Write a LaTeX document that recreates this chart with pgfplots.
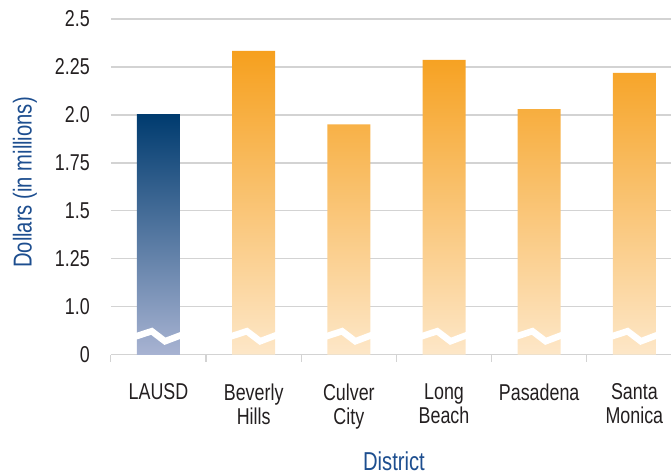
\documentclass[border=0pt]{standalone}
\usepackage{pgfplots}
\pgfplotsset{compat=1.18}
\usepackage{fontspec}
\setmainfont{Liberation Sans}[FakeStretch=0.78]

\definecolor{navytop}{HTML}{003B6F}
\definecolor{navybot}{HTML}{A8B3D2}
\definecolor{orangetop}{HTML}{F6A01E}
\definecolor{orangebot}{HTML}{FDE7C8}
\definecolor{gridgray}{HTML}{D3D3D3}
\definecolor{labelblue}{HTML}{1D4E8F}
\definecolor{ticktext}{HTML}{231F20}

% values are stored as (value - 0.75): the axis is broken between 0 and 1.0
\begin{document}
\begin{tikzpicture}
\begin{axis}[
    scale only axis,
    width=560.1bp,
    height=335.7bp,
    xmin=-0.5, xmax=5.385,
    ymin=0, ymax=1.75,
    axis line style={draw=none},
    ytick={0,0.25,0.5,0.75,1,1.25,1.5,1.75},
    yticklabels={0,1.0,1.25,1.5,1.75,2.0,2.25,2.5},
    xtick={0,1,2,3,4,5},
    xticklabels={LAUSD,Beverly\\Hills,Culver\\City,Long\\Beach,Pasadena,Santa\\Monica},
    minor xtick={-0.5,0.5,1.5,2.5,3.5,4.5},
    xtick pos=bottom,
    ytick pos=left,
    major tick length=0pt,
    minor tick length=7bp,
    tick align=outside,
    minor tick style={gridgray, line width=1.2bp},
    ymajorgrids=true,
    grid style={gridgray, line width=1.3bp},
    /pgf/number format/assume math mode=true,
    ticklabel style={font=\fontsize{23}{24}\selectfont, text=ticktext},
    yticklabel style={anchor=east, inner sep=0pt, xshift=-21bp},
    xticklabel style={anchor=north, align=center, inner sep=0pt, yshift=-29bp},
    xlabel={District},
    ylabel={Dollars (in millions)},
    label style={font=\fontsize{26}{28}\selectfont, text=labelblue},
    xlabel style={at={(axis description cs:0.5054,-0.3464)}, anchor=base},
    ylabel style={at={(axis description cs:-0.1534,0.513)}, anchor=center},
    unbounded coords=jump,
]

\addplot[ybar, bar width=43bp, bar shift=0pt, draw=none,
    top color=navytop, bottom color=navybot] coordinates {
(0,1.25)
};

\addplot[ybar, bar width=43bp, bar shift=0pt, draw=none,
    top color=orangetop, bottom color=orangebot] coordinates {
(1,1.584)
(2,1.201)
(3,1.537)
(4,1.280)
(5,1.469)
};

% break marks
\addplot[white, line width=6.5bp, line join=miter, sharp plot, forget plot] coordinates {
(-0.26,0.092) (-0.071,0.1225) (0.068,0.070) (0.26,0.106) (0.3,nan)
(0.74,0.092) (0.929,0.1225) (1.068,0.070) (1.26,0.106) (1.3,nan)
(1.74,0.092) (1.929,0.1225) (2.068,0.070) (2.26,0.106) (2.3,nan)
(2.74,0.092) (2.929,0.1225) (3.068,0.070) (3.26,0.106) (3.3,nan)
(3.74,0.092) (3.929,0.1225) (4.068,0.070) (4.26,0.106) (4.3,nan)
(4.74,0.092) (4.929,0.1225) (5.068,0.070) (5.26,0.106)
};

\end{axis}
\pgfresetboundingbox
\path (-110.9bp,-121.3bp) rectangle (560.1bp,354.7bp);
\end{tikzpicture}
\end{document}
